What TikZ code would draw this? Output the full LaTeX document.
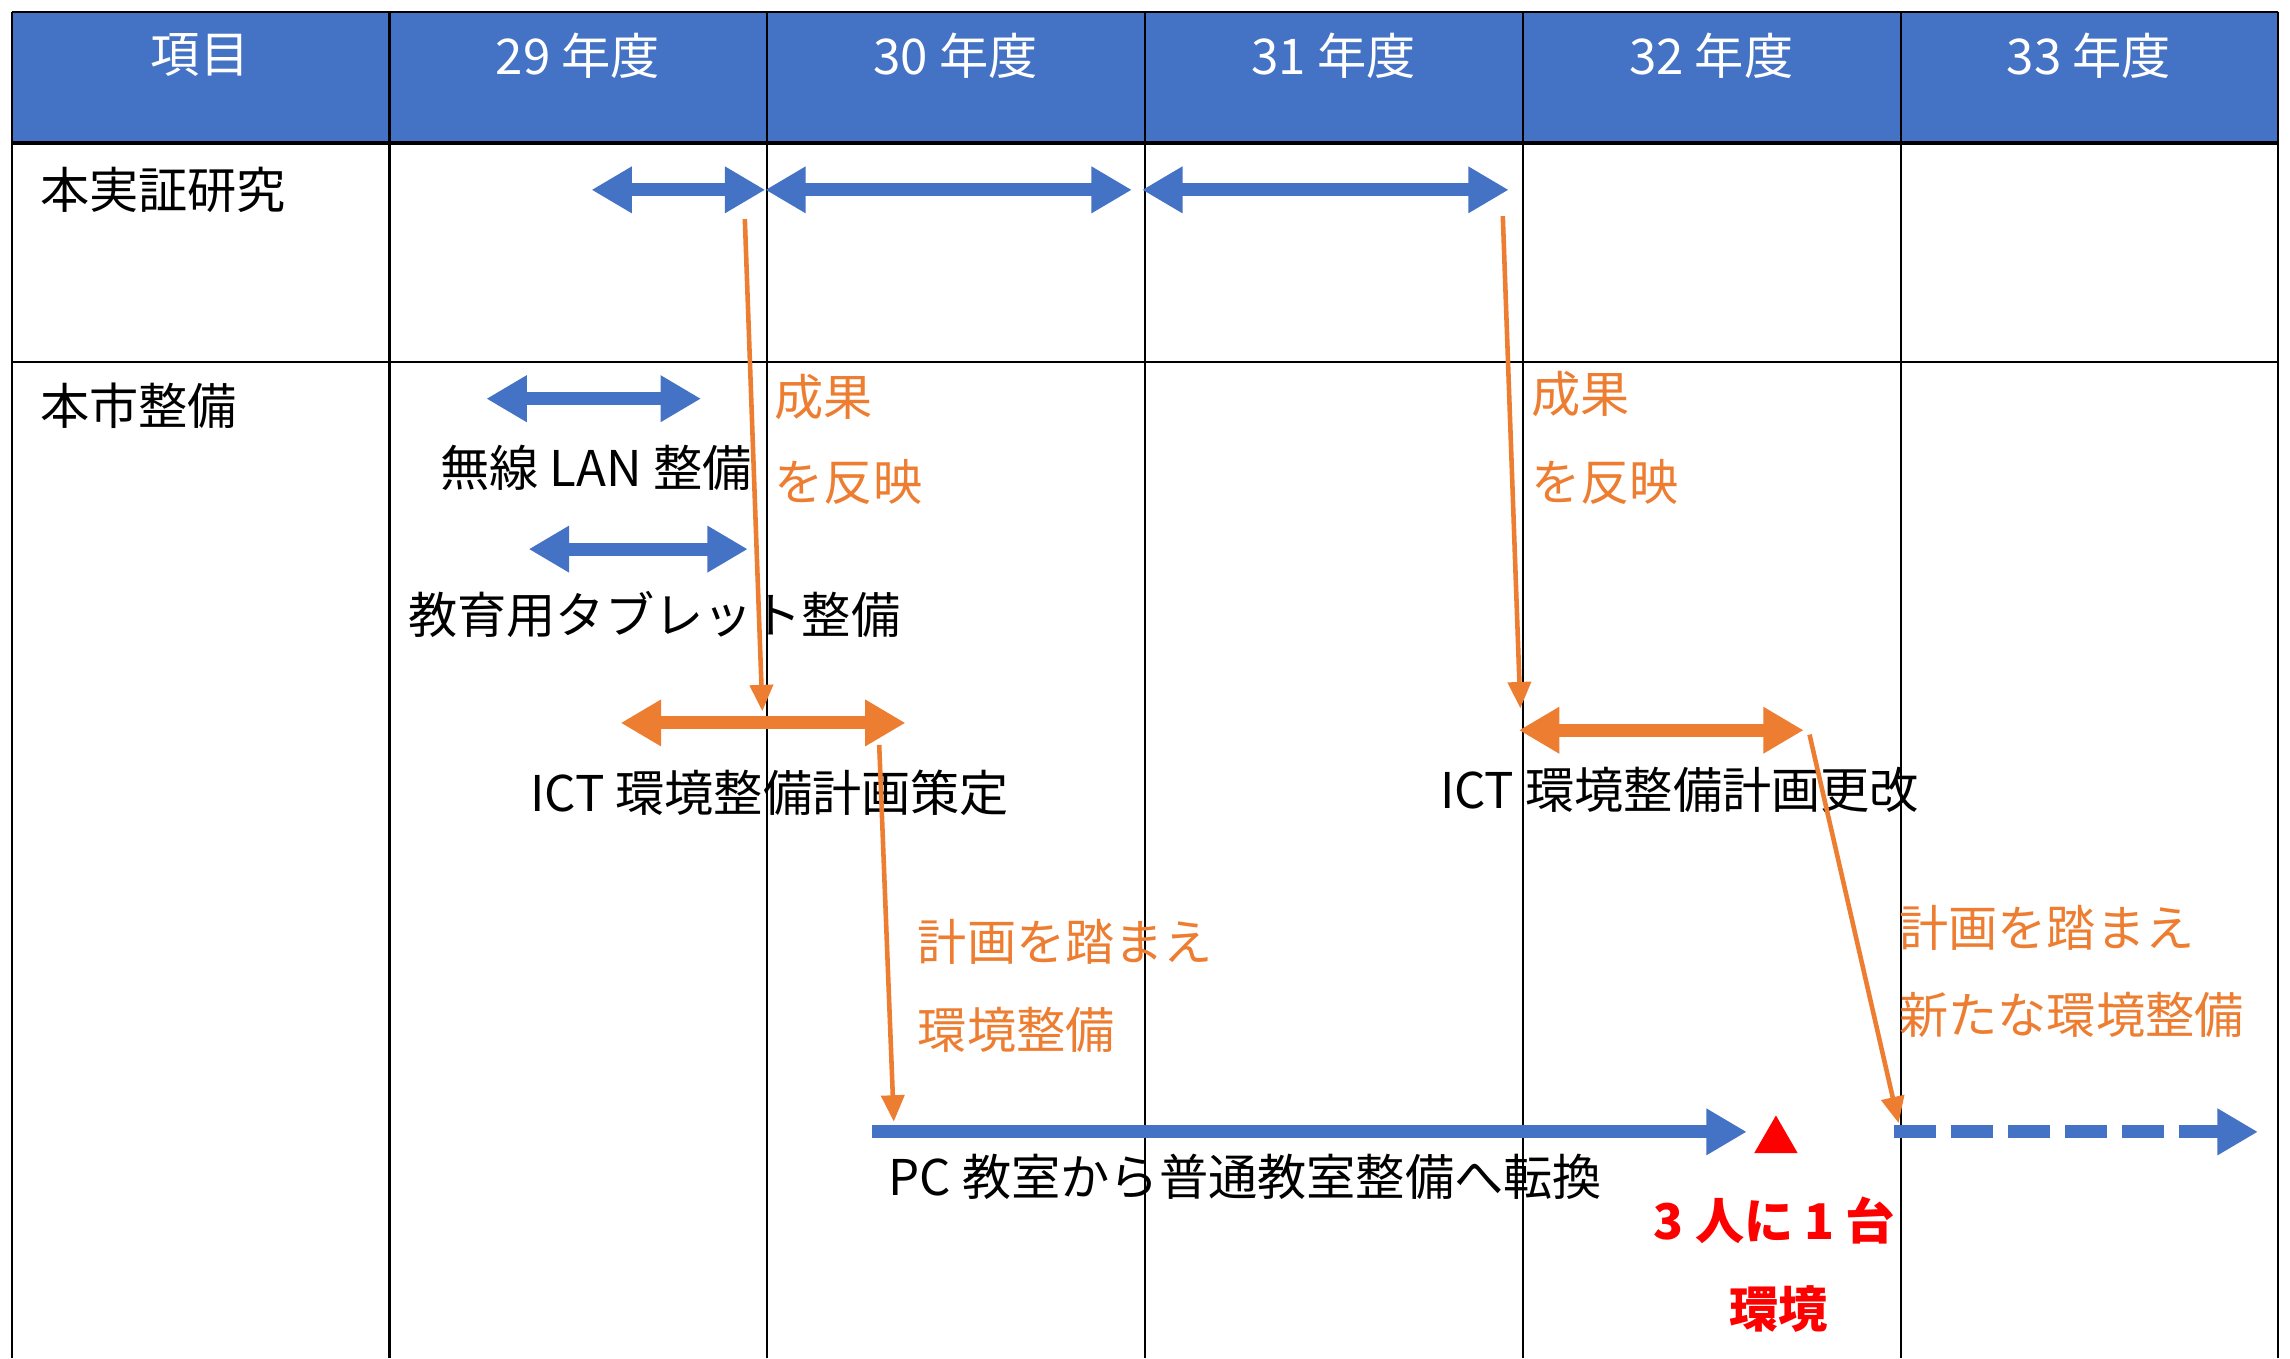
\documentclass[tikz,border=0pt]{standalone}
\usepackage{fontspec}
\setmainfont{Noto Sans CJK JP}
\usepackage{xcolor}
\usetikzlibrary{arrows.meta,shapes.geometric}
\definecolor{hdblue}{HTML}{4472C4}
\definecolor{plorange}{HTML}{ED7D31}
\definecolor{mkred}{HTML}{FF0000}
\tikzset{bartip/.tip={Triangle[length=11.5pt,width=12.5pt]},
  linktip/.tip={Triangle[length=7.5pt,width=6.5pt]}}

\begin{document}
\begin{tikzpicture}[x=0.014605cm, y=-0.014605cm,
  grid/.style = {draw=black, line width=0.6pt},
  txt/.style = {inner sep=0pt, font=\fontsize{14}{16}\selectfont},
  head/.style = {txt, text=white},
  note/.style = {txt, text=plorange, anchor=west},
  redtxt/.style = {txt, text=mkred, font=\fontsize{14}{16}\selectfont\bfseries},
  bluebar/.style = {draw=hdblue, line width=3.7pt, bartip-bartip},
  orangebar/.style = {draw=plorange, line width=3.7pt, bartip-bartip},
  link/.style = {draw=plorange, line width=1.3pt, -linktip}]
\useasboundingbox (0,0) rectangle (1568,930);
% table
\fill[hdblue] (8,8) rectangle (1560,98);
\draw[grid] (8,8) -- (1560,8);
\draw[grid, line width=1pt] (8,98) -- (1560,98);
\draw[grid] (8,248) -- (1560,248);
\foreach \i in {0,...,6}
  \draw[grid] ({8+258.67*\i},8) -- ({8+258.67*\i},930);
\node[head] (item) at (137,38) {項目};
\foreach \yr [count=\i] in {29,...,33}
  \node[head] (y\yr) at ({137+258.67*\i},38) {\yr\ 年度};
\node[txt, anchor=west] (study) at (27,130) {本実証研究};
\node[txt, anchor=west] (city) at (27,278) {本市整備};
% study periods
\coordinate (s1) at (405,130);
\coordinate (s2) at (524,130);
\coordinate (s3) at (775,130);
\coordinate (s4) at (782,130);
\coordinate (s5) at (1033,130);
\draw[bluebar] (s1) -- (s2);
\draw[bluebar] (s2) -- (s3);
\draw[bluebar] (s4) -- (s5);
% city works
\coordinate (lanA) at (333,273);
\coordinate (lanB) at (480,273);
\draw[bluebar] (lanA) -- (lanB);
\node[txt] (lan) at (408,320) {無線 LAN 整備};
\coordinate (tabA) at (362,376);
\coordinate (tabB) at (512,376);
\draw[bluebar] (tabA) -- (tabB);
\node[txt] (tab) at (448,421) {教育用タブレット整備};
\coordinate (planA) at (425,495);
\coordinate (planB) at (620,495);
\draw[orangebar] (planA) -- (planB);
\node[txt] (plan) at (527,543) {ICT 環境整備計画策定};
\coordinate (revA) at (1040,500);
\coordinate (revB) at (1235,500);
\draw[orangebar] (revA) -- (revB);
\node[txt] (rev) at (1150,541) {ICT 環境整備計画更改};
\coordinate (pcA) at (597,775);
\coordinate (pcB) at (1196,775);
\draw[bluebar, -bartip] (pcA) -- (pcB);
\node[txt, anchor=west] (pc) at (608,806) {PC 教室から普通教室整備へ転換};
\coordinate (nextA) at (1297,775);
\coordinate (nextB) at (1546,775);
\draw[bluebar, -bartip, dash pattern=on 12pt off 4.2pt] (nextA) -- (nextB);
% goal
\node[regular polygon, regular polygon sides=3, fill=mkred, inner sep=0pt,
  minimum size=14.3pt] (goal) at (1216,781) {};
\node[redtxt] (goal1) at (1215,836) {3 人に 1 台};
\node[redtxt] (goal2) at (1218,896) {環境};
% links
\coordinate (k1) at (510,150);
\coordinate (k2) at (522,487);
\draw[link] (k1) -- (k2);
\node[note] (res1) at (530,272) {成果};
\node[note] (ref1) at (530,330) {を反映};
\coordinate (k3) at (1029,148);
\coordinate (k4) at (1041,485);
\draw[link] (k3) -- (k4);
\node[note] (res2) at (1048,270) {成果};
\node[note] (ref2) at (1048,330) {を反映};
\coordinate (k5) at (602,510);
\coordinate (k6) at (612,768);
\draw[link] (k5) -- (k6);
\node[note] (base1) at (628,645) {計画を踏まえ};
\node[note] (env1) at (628,705) {環境整備};
\coordinate (k7) at (1239,503);
\coordinate (k8) at (1300,769);
\draw[link] (k7) -- (k8);
\node[note] (base2) at (1300,635) {計画を踏まえ};
\node[note] (env2) at (1300,695) {新たな環境整備};
\end{tikzpicture}
\end{document}
